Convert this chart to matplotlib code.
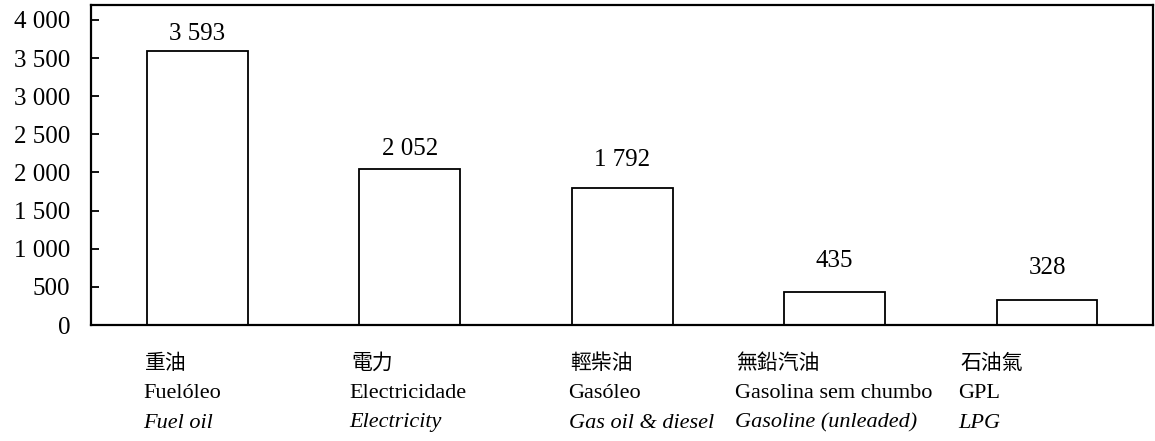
import numpy as np
import matplotlib.pyplot as plt
from matplotlib.transforms import blended_transform_factory

plt.rcParams['font.family'] = ['Liberation Serif', 'Noto Sans CJK TC']

# data
labels_zh = ['重油', '電力', '輕柴油', '無鉛汽油', '石油氣']
labels_pt = ['Fuelóleo', 'Electricidade', 'Gasóleo', 'Gasolina sem chumbo', 'GPL']
labels_en = ['Fuel oil', 'Electricity', 'Gas oil & diesel', 'Gasoline (unleaded)', 'LPG']
values = [3593, 2052, 1792, 435, 328]
yticks = [0, 500, 1000, 1500, 2000, 2500, 3000, 3500, 4000]

# layout tweaks (label offsets)
value_offsets = [8, 10, 16, 18, 19]          # points above bar top
label_shift = [-0.255, -0.286, -0.252, -0.471, -0.417]  # left edge of category text


def fmt(v):
    return f'{v:,}'.replace(',', ' ')


fig = plt.figure(figsize=(11.55, 4.41), dpi=100)
ax = fig.add_axes([0.0788, 0.263, 0.9197, 0.7263])

x = np.arange(len(values))
ax.bar(x, values, width=0.475, color='white', edgecolor='black', linewidth=1.3, zorder=2)

for xi, v, off in zip(x, values, value_offsets):
    ax.annotate(fmt(v), (xi, v), xytext=(0, off), textcoords='offset points',
                ha='center', va='baseline', fontsize=18)

ax.set_xlim(-0.5, len(values) - 0.5)
ax.set_ylim(0, 4200)
ax.set_yticks(yticks)
ax.set_yticklabels([fmt(t) for t in yticks], fontsize=18)
ax.set_xticks([])
ax.tick_params(axis='y', direction='in', length=6, width=1.3, pad=15)
for s in ax.spines.values():
    s.set_linewidth(1.6)

trans = blended_transform_factory(ax.transData, fig.transFigure)
for xi, zh, pt, en, sh in zip(x, labels_zh, labels_pt, labels_en, label_shift):
    ax.text(xi + sh + 0.01, 1 - 363 / 441, zh, transform=trans, ha='left', va='center',
            fontsize=15, family=['Noto Sans CJK TC'])
    ax.text(xi + sh, 1 - 394 / 441, pt, transform=trans, ha='left', va='center',
            fontsize=16)
    ax.text(xi + sh, 1 - 423 / 441, en, transform=trans, ha='left', va='center',
            fontsize=16, style='italic')

fig.savefig('out.png', dpi=100)
